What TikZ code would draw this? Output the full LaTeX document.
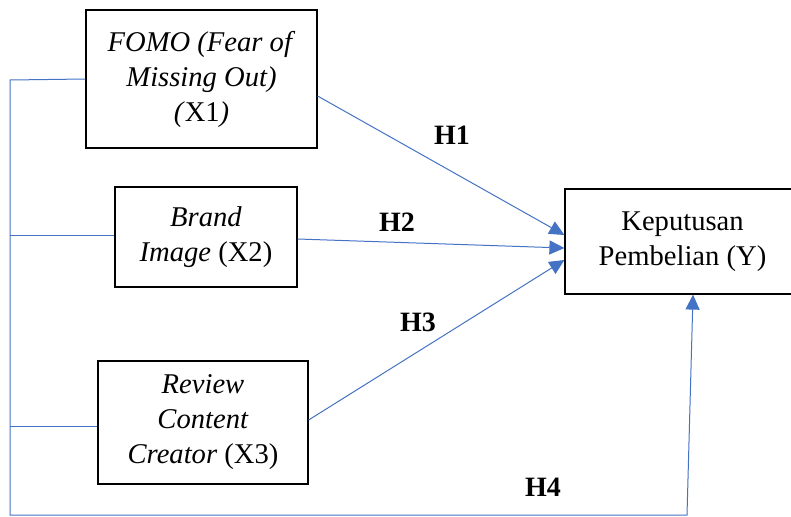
\documentclass[tikz,border=0pt]{standalone}
\usepackage{fontspec}
\setmainfont{Liberation Serif}
\usetikzlibrary{arrows.meta}
\definecolor{linkblue}{HTML}{4472C4}

\begin{document}
\begin{tikzpicture}[%
  x=1pt, y=-1pt,
  var/.style={draw=black, line width=1.2pt, align=center, inner sep=0pt,
    font=\fontsize{28.6}{35}\selectfont},
  link/.style={draw=linkblue, line width=1pt},
  hyp/.style={link, -{Triangle[length=15pt,width=14pt]}},
  hlabel/.style={font=\fontsize{28}{34}\selectfont\bfseries}]
\useasboundingbox (0,0) rectangle (791,516);
\node[var, minimum width=231pt, minimum height=138pt] (fomo) at (201.5,79)
  {\textit{FOMO (Fear of}\\ \textit{Missing Out)}\\ \textit{(}X1\textit{)}};
\node[var, minimum width=182pt, minimum height=100pt] (brand) at (206,237)
  {\textit{Brand}\\ \textit{Image} (X2)};
\node[var, minimum width=210pt, minimum height=123pt] (review) at (203,422.5)
  {\textit{Review}\\ \textit{Content}\\ \textit{Creator} (X3)};
\node[var, minimum width=235pt, minimum height=105pt] (beli) at (682.5,241.5)
  {Keputusan\\ Pembelian (Y)};
\coordinate (top) at (10,80);
\coordinate (corner) at (10,515);
\coordinate (foot) at (687,515);
\draw[hyp] ([yshift=-17pt]fomo.east) -- ([yshift=6.5pt]beli.west);
\draw[hyp] ([yshift=-2pt]brand.east) -- ([yshift=-6.5pt]beli.west);
\draw[hyp] ([yshift=2.5pt]review.east) -- ([yshift=-18.5pt]beli.west);
\draw[hyp] (fomo.west) -- (top) -- (corner) -- (foot) -- ([xshift=10.5pt]beli.south);
\draw[link] ([yshift=2pt]brand.west) -- ([yshift=2pt]brand.west -| corner);
\draw[link] ([yshift=-3.5pt]review.west) -- ([yshift=-3.5pt]review.west -| corner);
\node[hlabel] (h1) at (452,135) {H1};
\node[hlabel] (h2) at (397,222) {H2};
\node[hlabel] (h3) at (418,322) {H3};
\node[hlabel] (h4) at (543,487) {H4};
\end{tikzpicture}
\end{document}
